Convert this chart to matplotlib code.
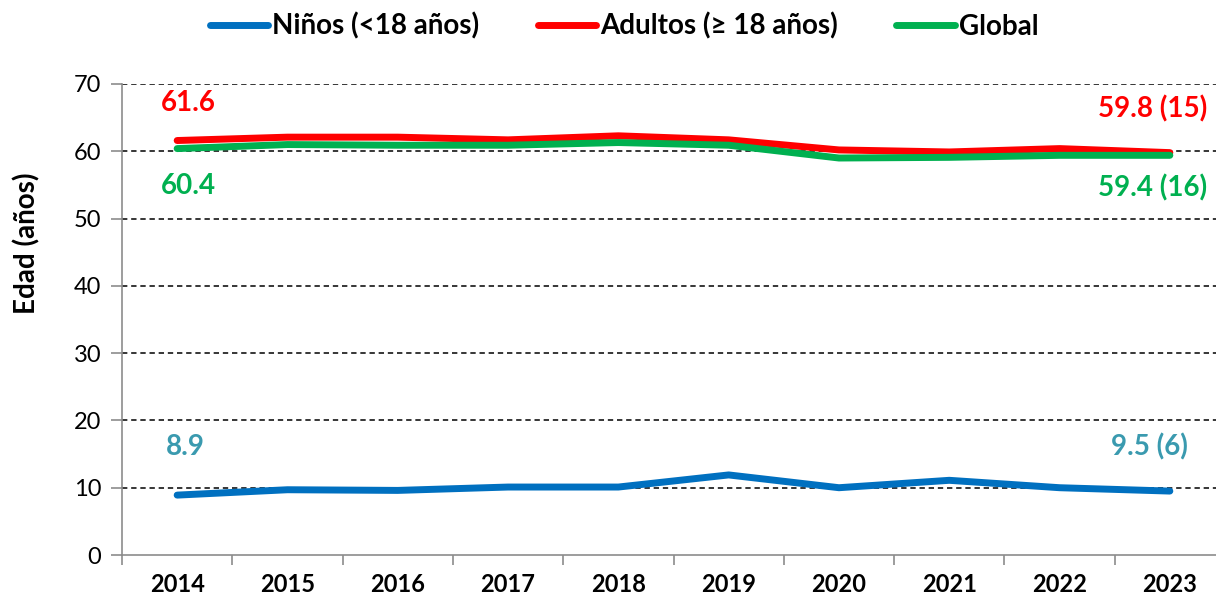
import matplotlib.pyplot as plt

plt.rcParams['font.family'] = ['Lato', 'DejaVu Sans']

years = [2014, 2015, 2016, 2017, 2018, 2019, 2020, 2021, 2022, 2023]
ninos = [8.9, 9.7, 9.6, 10.1, 10.1, 11.9, 10.0, 11.1, 10.0, 9.5]
adultos = [61.6, 62.1, 62.1, 61.7, 62.3, 61.7, 60.2, 59.9, 60.4, 59.8]
glob = [60.4, 61.0, 60.9, 60.9, 61.3, 60.9, 59.0, 59.1, 59.4, 59.4]

series_names = ['Niños (<18 años)', 'Adultos (≥ 18 años)', 'Global']
first_labels = ['8.9', '61.6', '60.4']
last_labels = ['9.5 (6)', '59.8 (15)', '59.4 (16)']

BLUE = '#0070C0'
RED = '#FF0000'
GREEN = '#00B050'
TEAL = '#3A9AAF'

fig = plt.figure(figsize=(12.16, 6), dpi=100)
ax = fig.add_axes([122 / 1216, 45 / 600, 1103 / 1216, 471 / 600])

x = list(range(len(years)))
ax.plot(x, ninos, color=BLUE, lw=5, solid_capstyle='round', label=series_names[0], zorder=3)
ax.plot(x, adultos, color=RED, lw=5, solid_capstyle='round', label=series_names[1], zorder=3)
ax.plot(x, glob, color=GREEN, lw=5, solid_capstyle='round', label=series_names[2], zorder=4)

ax.set_xlim(-0.5, len(years) - 0.5)
ax.set_ylim(0, 70)
ax.set_yticks(range(0, 71, 10))
ax.set_xticks(x)
ax.set_xticklabels([str(y) for y in years], fontsize=17, fontweight='bold')
ax.set_xticks([i - 0.5 for i in range(len(years) + 1)], minor=True)
ax.tick_params(axis='x', which='major', length=0, pad=13)
ax.tick_params(axis='x', which='minor', length=7, color='#8c8c8c', width=1.2)
ax.tick_params(axis='y', length=8, color='#8c8c8c', width=1.2, labelsize=17, pad=7)

for gy in range(10, 71, 10):
    ax.axhline(gy, color='black', lw=1.1, ls=(0, (3.5, 2.5)), zorder=1)

for side in ['top', 'right']:
    ax.spines[side].set_visible(False)
for side in ['left', 'bottom']:
    ax.spines[side].set_color('#8c8c8c')
    ax.spines[side].set_linewidth(1.2)

ax.set_ylabel('Edad (años)', fontsize=20, fontweight='bold')
ax.yaxis.set_label_coords(-82 / 1103, (555 - 243) / 471)

# etiquetas de datos
lab_kw = dict(textcoords='offset pixels', ha='center', va='center', fontsize=20, fontweight='bold')
ax.annotate(first_labels[1], (x[0], adultos[0]), xytext=(11, 38), color=RED, **lab_kw)
ax.annotate(first_labels[2], (x[0], glob[0]), xytext=(11, -37), color=GREEN, **lab_kw)
ax.annotate(first_labels[0], (x[0], ninos[0]), xytext=(8, 48), color=TEAL, **lab_kw)
ax.annotate(last_labels[1], (x[-1], adultos[-1]), xytext=(-17, 44), color=RED, **lab_kw)
ax.annotate(last_labels[2], (x[-1], glob[-1]), xytext=(-17, -33), color=GREEN, **lab_kw)
ax.annotate(last_labels[0], (x[-1], ninos[-1]), xytext=(-20, 44), color=TEAL, **lab_kw)

fig.legend(loc='center', bbox_to_anchor=(624 / 1216, 1 - 26 / 600), ncol=3, frameon=False,
           prop={'size': 20, 'weight': 'bold'}, handlelength=2.1, handletextpad=0.15,
           columnspacing=2.1)

fig.savefig('out.png', dpi=100)
